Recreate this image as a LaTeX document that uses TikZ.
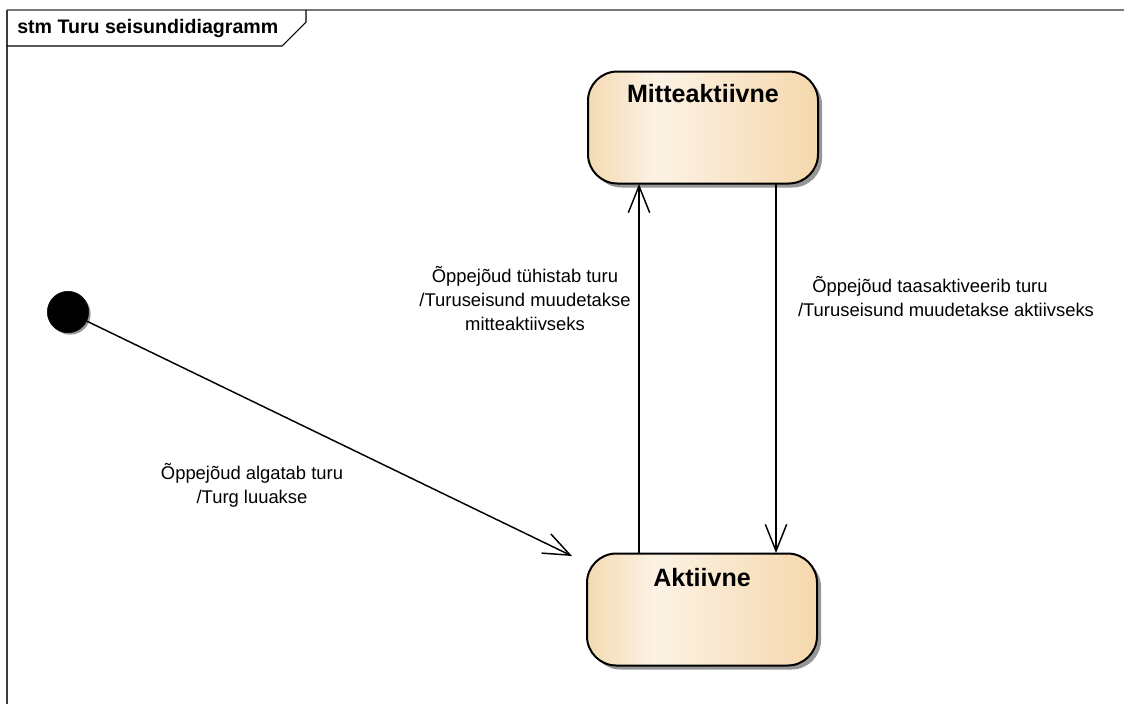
\documentclass[tikz,border=0pt]{standalone}
\usepackage{fontspec}
\setmainfont{Liberation Sans}
\usetikzlibrary{arrows.meta,shadows}
\definecolor{stL}{RGB}{244,218,178}
\definecolor{stM}{RGB}{252,242,228}
\definecolor{stR}{RGB}{245,216,172}
\definecolor{frameGray}{RGB}{120,120,120}
\definecolor{frameDark}{RGB}{60,60,60}
\definecolor{shadowGray}{RGB}{150,150,150}
\pgfdeclarehorizontalshading{stateshade}{100bp}{color(0bp)=(stL); color(25bp)=(stL); color(40bp)=(stM); color(75bp)=(stR); color(100bp)=(stR)}
\begin{document}
\begin{tikzpicture}[x=0.75pt,y=-0.75pt,
  statebox/.style={draw=black, line width=1.5pt, rounded corners=22pt,
    minimum width=172.5pt, minimum height=84pt, inner sep=0pt,
    shading=stateshade,
    drop shadow={shadow xshift=3pt, shadow yshift=-3pt, opacity=1, fill=shadowGray}},
  statename/.style={font=\fontsize{18.8}{21}\selectfont\bfseries, inner sep=0pt},
  initnode/.style={circle, fill=black, draw=black, minimum size=31pt, inner sep=0pt,
    drop shadow={shadow xshift=1.5pt, shadow yshift=-1.5pt, opacity=1, fill=shadowGray}},
  tr/.style={line width=1.1pt, -{Straight Barb[length=20pt, width=16pt, line width=1.1pt]}},
  trlabel/.style={font=\fontsize{13.8}{17.8}\selectfont, align=center, inner sep=0pt},
  ]
\useasboundingbox (0,0) rectangle (1124,704);
% frame
\draw[frameGray, line width=1.5pt] (7,10) -- (1124,10);
\draw[frameDark, line width=1.5pt] (7,10) -- (7,704);
\draw[black, line width=0.8pt] (7,46) -- (282,46) -- (306,22) -- (306,10);
\node[anchor=west, font=\fontsize{14.7}{17}\selectfont\bfseries, inner sep=0pt] (title) at (17,28) {stm Turu seisundidiagramm};
% states
\node[statebox] (m) at (703,127.5) {};
\node[statename] (mt) at (703,94) {Mitteaktiivne};
\node[statebox] (a) at (702,609.5) {};
\node[statename] (at) at (702,578) {Aktiivne};
% initial
\node[initnode] (init) at (68,312) {};
% coordinates
\coordinate (atip) at (572,556);
\coordinate (la) at (639,553);
\coordinate (lm) at (639,184);
\coordinate (rm) at (776,183);
\coordinate (ra) at (776,553);
% transitions
\draw[tr] (init) -- (atip);
\draw[tr] (la) -- (lm);
\draw[tr] (rm) -- (ra);
% labels
\node[trlabel] (l1) at (252,485.5) {Õppejõud algatab turu\\/Turg luuakse};
\node[trlabel] (l2) at (525,298.5) {Õppejõud tühistab turu\\/Turuseisund muudetakse\\mitteaktiivseks};
\node[trlabel] (l3) at (946,296.5) {Õppejõud taasaktiveerib turu\hspace*{24pt}\\/Turuseisund muudetakse aktiivseks};
\end{tikzpicture}
\end{document}
